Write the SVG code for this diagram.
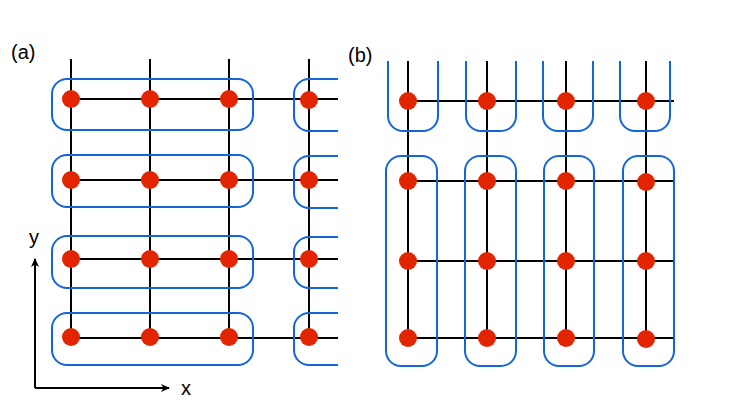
<svg xmlns="http://www.w3.org/2000/svg" width="747" height="412" viewBox="0 0 747 412">
<style>
.ln{stroke:#000;stroke-width:2;fill:none}
.bx{stroke:#1466d8;stroke-width:2;fill:none}
.dt{fill:#e22400}
.lb{font-family:"Liberation Sans",Arial,sans-serif;font-size:20px;fill:#000}
</style>
<defs>
<marker id="ah" markerWidth="10" markerHeight="10" refX="8" refY="5" orient="auto" markerUnits="userSpaceOnUse">
<path d="M0,1 L9,5 L0,9 L2.5,5 Z" fill="#000"/>
</marker>
</defs>
<rect width="747" height="412" fill="#fff"/>
<text class="lb" x="11" y="59">(a)</text>
<text class="lb" x="348" y="62">(b)</text>
<g id="connectors">
<g id="grid-a">
<path class="ln" d="M71,59V338M150,59V338M229,59V338M309,59V338"/>
<path class="ln" d="M71,99H338M71,180H338M71,259H338M71,338H338"/>
</g>
<g id="grid-b">
<path class="ln" d="M408,61V338M487,61V338M566,61V338M646,61V338"/>
<path class="ln" d="M408,101H674M408,181H674M408,261H674M408,338H674"/>
</g>
<g id="axes">
<path class="ln" d="M35,388V259" marker-end="url(#ah)"/>
<path class="ln" d="M35,388H169" marker-end="url(#ah)"/>
</g>
</g>
<g id="boxes-a">
<rect class="bx" x="52" y="79" width="201" height="51" rx="15"/>
<rect class="bx" x="52" y="155" width="201" height="52" rx="15"/>
<rect class="bx" x="52" y="236" width="201" height="52" rx="15"/>
<rect class="bx" x="52" y="313" width="201" height="52" rx="15"/>
<path class="bx" d="M338,79H309A15,15 0 0 0 294,94V116A15,15 0 0 0 309,131H338"/>
<path class="bx" d="M338,156H309A15,15 0 0 0 294,171V193A15,15 0 0 0 309,208H338"/>
<path class="bx" d="M338,237H309A15,15 0 0 0 294,252V273A15,15 0 0 0 309,288H338"/>
<path class="bx" d="M338,313H309A15,15 0 0 0 294,328V350A15,15 0 0 0 309,365H338"/>
</g>
<g id="boxes-b">
<path class="bx" d="M388,61V116A15,15 0 0 0 403,131H423A15,15 0 0 0 438,116V61"/>
<path class="bx" d="M466,61V116A15,15 0 0 0 481,131H501A15,15 0 0 0 516,116V61"/>
<path class="bx" d="M543,61V116A15,15 0 0 0 558,131H578A15,15 0 0 0 593,116V61"/>
<path class="bx" d="M620,61V116A15,15 0 0 0 635,131H655A15,15 0 0 0 670,116V61"/>
<rect class="bx" x="386" y="156" width="51" height="210" rx="15"/>
<rect class="bx" x="465" y="156" width="51" height="210" rx="15"/>
<rect class="bx" x="544" y="156" width="50" height="210" rx="15"/>
<rect class="bx" x="623" y="156" width="51" height="210" rx="15"/>
</g>
<g id="nodes-a">
<circle class="dt" cx="71" cy="99" r="9"/><circle class="dt" cx="150" cy="99" r="9"/><circle class="dt" cx="229" cy="99" r="9"/><circle class="dt" cx="309" cy="100" r="9"/>
<circle class="dt" cx="71" cy="180" r="9"/><circle class="dt" cx="150" cy="180" r="9"/><circle class="dt" cx="229" cy="180" r="9"/><circle class="dt" cx="309" cy="180" r="9"/>
<circle class="dt" cx="71" cy="259" r="9"/><circle class="dt" cx="150" cy="259" r="9"/><circle class="dt" cx="229" cy="259" r="9"/><circle class="dt" cx="309" cy="259" r="9"/>
<circle class="dt" cx="71" cy="337" r="9"/><circle class="dt" cx="150" cy="337" r="9"/><circle class="dt" cx="229" cy="337" r="9"/><circle class="dt" cx="309" cy="337" r="9"/>
</g>
<g id="nodes-b">
<circle class="dt" cx="408" cy="101" r="9"/><circle class="dt" cx="487" cy="101" r="9"/><circle class="dt" cx="566" cy="101" r="9"/><circle class="dt" cx="646" cy="101" r="9"/>
<circle class="dt" cx="408" cy="181" r="9"/><circle class="dt" cx="487" cy="181" r="9"/><circle class="dt" cx="566" cy="181" r="9"/><circle class="dt" cx="646" cy="182" r="9"/>
<circle class="dt" cx="408" cy="261" r="9"/><circle class="dt" cx="487" cy="261" r="9"/><circle class="dt" cx="566" cy="261" r="9"/><circle class="dt" cx="646" cy="261" r="9"/>
<circle class="dt" cx="408" cy="338" r="9"/><circle class="dt" cx="487" cy="338" r="9"/><circle class="dt" cx="566" cy="338" r="9"/><circle class="dt" cx="646" cy="339" r="9"/>
</g>
<g id="axis-labels">
<text class="lb" x="29" y="244">y</text>
<text class="lb" x="181" y="395">x</text>
</g>
</svg>
